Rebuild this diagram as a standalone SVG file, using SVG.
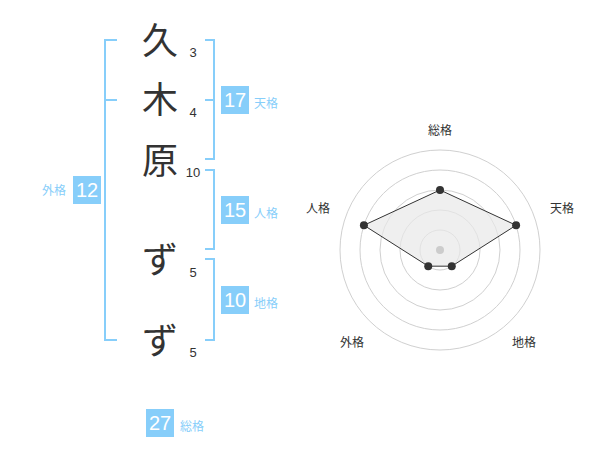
<svg xmlns="http://www.w3.org/2000/svg" width="600" height="470" viewBox="0 0 600 470">
<style>
.ch{font-family:"Noto Sans CJK JP","Noto Sans CJK SC",sans-serif;font-size:36px;fill:#333;text-anchor:middle}
.num{font-family:"Liberation Sans",Arial,sans-serif;font-size:13px;fill:#333;text-anchor:middle}
.br{fill:none;stroke:#87CEFA;stroke-width:2}
.box{fill:#87CEFA}
.bn{font-family:"Liberation Sans",Arial,sans-serif;font-size:20px;fill:#fff;text-anchor:middle}
.lb{font-family:"Noto Sans CJK JP","Noto Sans CJK SC",sans-serif;font-size:12px;fill:#87CEFA}
.ring{fill:none;stroke:#d0d0d0;stroke-width:1}
.rl{font-family:"Noto Sans CJK JP","Noto Sans CJK SC",sans-serif;font-size:12px;fill:#333;text-anchor:middle}
.dot{fill:#333}
</style>
<rect width="600" height="470" fill="#fff"/>
<g id="chars">
<g id="c1"><text class="ch" x="160" y="54">久</text><text class="num" x="193" y="57">3</text></g>
<g id="c2"><text class="ch" x="160" y="113">木</text><text class="num" x="193" y="117">4</text></g>
<g id="c3"><text class="ch" x="160" y="174">原</text><text class="num" x="193" y="177">10</text></g>
<g id="c4"><text class="ch" x="160" y="273">ず</text><text class="num" x="193" y="277">5</text></g>
<g id="c5"><text class="ch" x="160" y="354">ず</text><text class="num" x="193" y="357">5</text></g>
</g>
<g id="connectors">
<path class="br" d="M117,40 H105 V340 H117 M105,100 H117"/>
<path class="br" d="M205,40 H214 V159 H205 M205,100 H214"/>
<path class="br" d="M205,170 H214 V249 H205"/>
<path class="br" d="M205,259 H214 V340 H205"/>
</g>
<g id="gaikaku"><text class="lb" x="66" y="195" text-anchor="end">外格</text><rect class="box" x="73" y="176" width="28" height="28"/><text class="bn" x="87" y="197">12</text></g>
<g id="tenkaku"><rect class="box" x="221" y="86" width="28" height="28"/><text class="bn" x="235" y="107">17</text><text class="lb" x="254" y="108">天格</text></g>
<g id="jinkaku"><rect class="box" x="221" y="196" width="28" height="28"/><text class="bn" x="235" y="217">15</text><text class="lb" x="254" y="218">人格</text></g>
<g id="chikaku"><rect class="box" x="221" y="286" width="28" height="28"/><text class="bn" x="235" y="307">10</text><text class="lb" x="254" y="308">地格</text></g>
<g id="soukaku"><rect class="box" x="146" y="409" width="28" height="28"/><text class="bn" x="160" y="430">27</text><text class="lb" x="180" y="431">総格</text></g>
<g id="radar">
<circle class="ring" cx="440" cy="250" r="20"/>
<circle class="ring" cx="440" cy="250" r="40"/>
<circle class="ring" cx="440" cy="250" r="60"/>
<circle class="ring" cx="440" cy="250" r="80"/>
<circle class="ring" cx="440" cy="250" r="100"/>
<polygon points="440,190 516.08,225.28 451.76,266.18 428.24,266.18 363.92,225.28" fill="#e8e8e8" fill-opacity="0.7" stroke="#333" stroke-width="1"/>
<circle cx="440" cy="250" r="4" fill="#ccc"/>
<circle class="dot" cx="440" cy="190" r="4"/>
<circle class="dot" cx="516.08" cy="225.28" r="4"/>
<circle class="dot" cx="451.76" cy="266.18" r="4"/>
<circle class="dot" cx="428.24" cy="266.18" r="4"/>
<circle class="dot" cx="363.92" cy="225.28" r="4"/>
<text class="rl" x="440" y="135">総格</text>
<text class="rl" x="562" y="213">天格</text>
<text class="rl" x="318" y="213">人格</text>
<text class="rl" x="352" y="347">外格</text>
<text class="rl" x="524" y="347">地格</text>
</g>
</svg>
